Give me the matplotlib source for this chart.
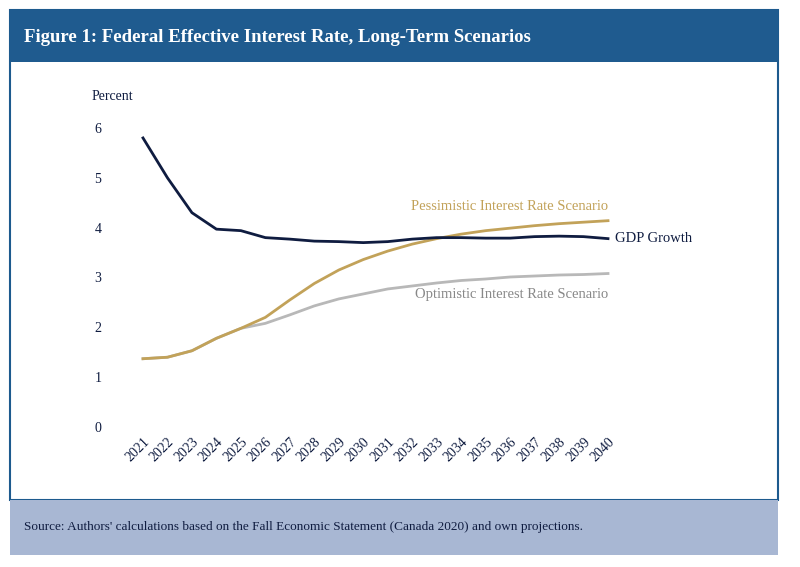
import matplotlib.pyplot as plt
from matplotlib.patches import Rectangle

plt.rcParams['font.family'] = ['Liberation Serif', 'DejaVu Serif']

years = list(range(2021, 2041))
gdp_growth = [5.8, 5.0, 4.3, 3.97, 3.94, 3.8, 3.77, 3.73, 3.72, 3.70,
              3.72, 3.77, 3.80, 3.80, 3.79, 3.79, 3.82, 3.83, 3.82, 3.78]
pessimistic = [1.37, 1.40, 1.53, 1.78, 1.98, 2.2, 2.55, 2.88, 3.15, 3.36,
               3.53, 3.67, 3.78, 3.87, 3.94, 3.99, 4.04, 4.08, 4.11, 4.14]
optimistic = [1.37, 1.40, 1.53, 1.78, 1.98, 2.08, 2.25, 2.43, 2.57, 2.67,
              2.77, 2.83, 2.89, 2.94, 2.97, 3.01, 3.03, 3.05, 3.06, 3.08]

navy = '#0f1c40'
gold = '#c2a259'
gray = '#b8b8b8'

fig = plt.figure(figsize=(8, 5.67), dpi=100)
W, H = 800, 567

def box(x0, y0, x1, y1, **kw):
    fig.patches.append(Rectangle((x0 / W, 1 - y1 / H), (x1 - x0) / W, (y1 - y0) / H,
                                 transform=fig.transFigure, zorder=-10, **kw))

box(10, 10, 778, 500, facecolor='white', edgecolor='#1d5a8e', linewidth=1.5)
box(10, 10, 778, 62, facecolor='#1f5b8f', edgecolor='none')
box(10, 500, 778, 555, facecolor='#a8b7d3', edgecolor='none')
fig.text(24 / W, 1 - 38 / H, 'Figure 1: Federal Effective Interest Rate, Long-Term Scenarios',
         color='white', fontsize=13.5, fontweight='bold', va='center')
fig.text(24 / W, 1 - 527 / H, "Source: Authors' calculations based on the Fall Economic Statement (Canada 2020) and own projections.",
         color=navy, fontsize=9.5, va='center')

ax = fig.add_axes([143 / W, 1 - 427 / H, (608 - 143) / W, (427 - 128) / H])
ax.set_facecolor('none')
ax.plot(years, optimistic, color=gray, lw=2, clip_on=False)
ax.plot(years, pessimistic, color=gold, lw=2, clip_on=False)
ax.plot(years, gdp_growth, color=navy, lw=2, clip_on=False)
ax.set_xlim(2021, 2040)
ax.set_ylim(0, 6)
ax.set_xticks(years)
ax.set_xticklabels([str(y) for y in years], rotation=45, ha='right', rotation_mode='anchor')
ax.set_yticks(range(7))
ax.tick_params(length=0, labelsize=10, colors=navy, pad=30)
ax.tick_params(axis='x', pad=6)
for s in ax.spines.values():
    s.set_visible(False)

fig.text(92 / W, 1 - 97 / H, 'Percent', fontsize=10, color=navy, va='center')
ax.text(2040, 4.36, 'Pessimistic Interest Rate Scenario', color=gold, fontsize=10.5, ha='right')
ax.text(2040, 2.58, 'Optimistic Interest Rate Scenario', color='#888888', fontsize=10.5, ha='right')
ax.text(2040.3, 3.72, 'GDP Growth', color=navy, fontsize=10.5, ha='left')

fig.savefig('out.png', dpi=100)
